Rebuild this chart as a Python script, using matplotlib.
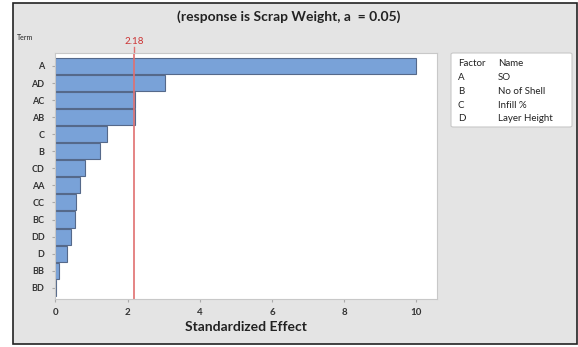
import numpy as np
import matplotlib
matplotlib.use('Agg')
import matplotlib.pyplot as plt
from matplotlib.patches import Rectangle, FancyBboxPatch

plt.rcParams['font.family'] = ['Lato', 'DejaVu Sans']

terms = ['A', 'AD', 'AC', 'AB', 'C', 'B', 'CD', 'AA', 'CC', 'BC', 'DD', 'D', 'BB', 'BD']
effects = [10.0, 3.03, 2.2, 2.2, 1.42, 1.25, 0.82, 0.68, 0.57, 0.54, 0.43, 0.33, 0.11, 0.02]
crit = 2.18
factors = ['A', 'B', 'C', 'D']
names = ['SO', 'No of Shell', 'Infill %', 'Layer Height']

bg = '#e4e4e4'
fig = plt.figure(figsize=(5.78, 3.47), dpi=100)
fig.patch.set_facecolor('white')

# outer gray panel with black frame
fig.patches.append(Rectangle((13 / 578, 1 - 344 / 347), 564 / 578, 341 / 347,
                             transform=fig.transFigure, facecolor=bg,
                             edgecolor='#222222', lw=1.2, zorder=-5))

ax = fig.add_axes([55 / 578, 1 - 299 / 347, 382 / 578, 246 / 347])
ax.set_zorder(2)
ax.set_facecolor('white')
y = np.arange(len(terms))
ax.barh(y, effects, height=0.94, color='#79a2d8', edgecolor='#55698a', lw=0.8)
ax.axvline(crit, color='#e07070', lw=1.2)
ax.set_xlim(-0.01, 10.57)
ax.set_ylim(13.66, -0.76)
ax.set_yticks(y)
ax.set_yticklabels(terms, fontsize=6.5, fontweight='bold', color='#333333')
ax.set_xticks([0, 2, 4, 6, 8, 10])
ax.set_xticklabels(['0', '2', '4', '6', '8', '10'], fontsize=7, fontweight='bold', color='#333333')
ax.tick_params(axis='y', length=2.5, color='#aaaaaa', pad=5)
ax.tick_params(axis='x', length=2.5, color='#aaaaaa', pad=4)
for s in ax.spines.values():
    s.set_color('#c8c8c8')
ax.set_xlabel('Standardized Effect', fontsize=10, fontweight='bold', color='#222222', labelpad=3)

# critical value marker
ax.plot([crit, crit], [-0.76, -1.1], color='#e07070', lw=1.0, clip_on=False)
ax.text(crit, -1.15, '2.18', color='#cc3333', fontsize=7, ha='center', va='bottom')

fig.text(0.5, 1 - 17 / 347, '(response is Scrap Weight, a  = 0.05)', fontsize=10,
         fontweight='bold', color='#222222', ha='center', va='center')
fig.text(17 / 578, 1 - 38 / 347, 'Term', fontsize=5, color='#222222', va='center')

# factor legend box
fig.patches.append(FancyBboxPatch((451 / 578, 1 - 127 / 347), 121 / 578, 74 / 347,
                                  boxstyle='round,pad=0,rounding_size=0.004',
                                  transform=fig.transFigure, facecolor='white',
                                  edgecolor='#c8c8c8', lw=0.8, zorder=1))
rows = [('Factor', 'Name')] + list(zip(factors, names))
for i, (f, n) in enumerate(rows):
    yy = 1 - (64 + i * 13.7) / 347
    fig.text(458 / 578, yy, f, fontsize=7, color='#222222', va='center', zorder=2)
    fig.text(498 / 578, yy, n, fontsize=7, color='#222222', va='center', zorder=2)

fig.savefig('out.png', dpi=100, facecolor=fig.get_facecolor())
